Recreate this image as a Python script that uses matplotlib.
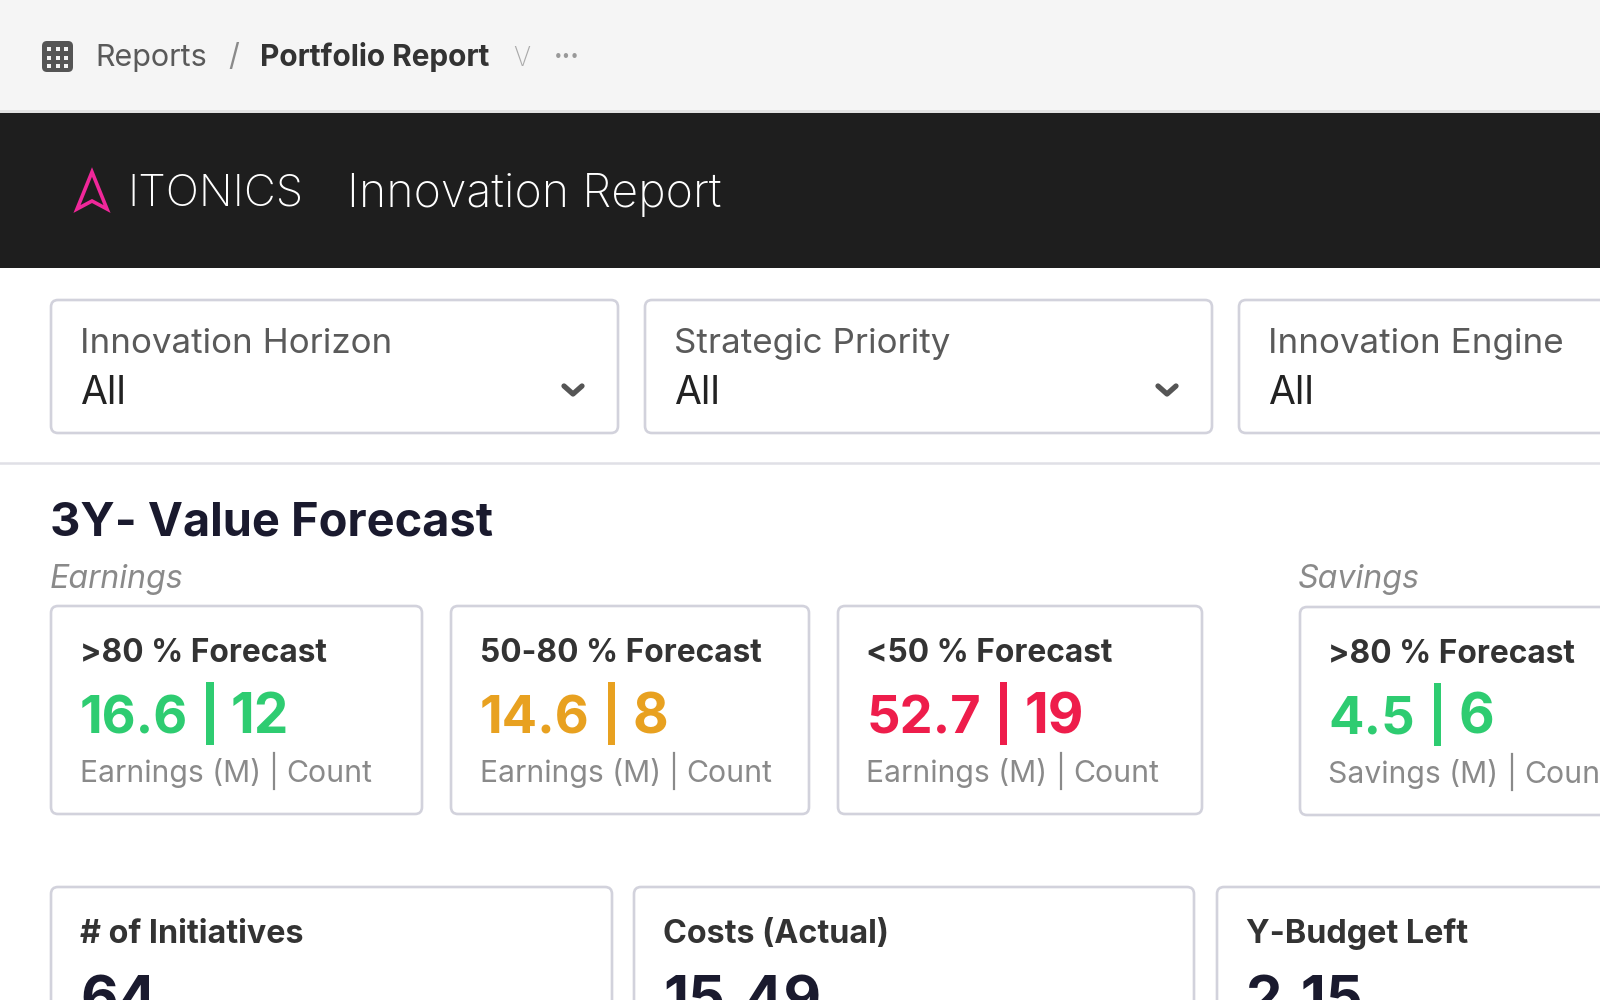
import matplotlib
matplotlib.use('Agg')
import matplotlib.pyplot as plt
from matplotlib.patches import FancyBboxPatch, Rectangle, Polygon

plt.rcParams['font.family'] = ['Inter', 'DejaVu Sans']

BORDER = '#d2d2dc'

filter_names = ['Innovation Horizon', 'Strategic Priority', 'Innovation Engine']
filter_values = ['All', 'All', 'All']
filter_x = [(51, 618), (645, 1212), (1239, 1640)]

forecast_titles = ['>80 % Forecast', '50-80 % Forecast', '<50 % Forecast', '>80 % Forecast']
forecast_values = ['16.6', '14.6', '52.7', '4.5']
forecast_counts = ['12', '8', '19', '6']
forecast_units = ['Earnings (M)', 'Earnings (M)', 'Earnings (M)', 'Savings (M)']
forecast_colors = ['#2ecc71', '#e8a120', '#ee1d4b', '#2ecc71']
forecast_x = [(51, 422), (451, 809), (838, 1202), (1300, 1640)]

summary_titles = ['# of Initiatives', 'Costs (Actual)', 'Y-Budget Left']
summary_values = ['64', '15.49', '2.15']
summary_x = [(51, 612), (634, 1194), (1217, 1640)]

fig = plt.figure(figsize=(16, 10), dpi=100)
ax = fig.add_axes([0, 0, 1, 1])
ax.set_xlim(0, 1600)
ax.set_ylim(1000, 0)
ax.axis('off')


def txt(x, y, s, px, color, weight='normal', **kw):
    return ax.text(x, y, s, fontsize=px * 0.72, color=color, weight=weight, va='baseline', **kw)


def right_edge(t):
    r = t.get_window_extent(fig.canvas.get_renderer())
    return ax.transData.inverted().transform((r.x1, 0))[0]


def box(x0, x1, y0, y1, r=7):
    ax.add_patch(FancyBboxPatch((x0, y0), x1 - x0, y1 - y0, boxstyle='round,pad=0,rounding_size=%d' % r,
                                fc='white', ec=BORDER, lw=1.9))


# top bars
ax.add_patch(Rectangle((0, 0), 1600, 112, fc='#f5f5f5', ec='none'))
ax.add_patch(Rectangle((0, 110), 1600, 4, fc='#e2e2e2', ec='none'))
ax.add_patch(Rectangle((0, 113), 1600, 155, fc='#1e1e1e', ec='none'))

# grid icon
ax.add_patch(FancyBboxPatch((42, 41), 31, 31, boxstyle='round,pad=0,rounding_size=5', fc='#555555', ec='none'))
for i in range(3):
    for j in range(3):
        ax.add_patch(Rectangle((47 + i * 8.5, 47 + j * 8.5), 4, 4, fc='#f5f5f5', ec='none'))

txt(95, 66, 'Reports', 30.5, '#5a5a5a')
txt(228, 66, '/', 30, '#8a8a8a')
txt(260, 66, 'Portfolio Report', 29.8, '#333333', weight='bold')
txt(513, 66, 'V', 26, '#aaaaaa', weight='light')
txt(554, 65, '···', 26, '#999999', weight='bold')

# logo
ax.add_patch(Polygon([(92, 172), (77, 209), (92, 201), (107, 209)], closed=True, fc='none', ec='#f0279a', lw=2.6))
txt(127, 205, 'ITONICS', 44, 'white', weight='light')
txt(347, 207, 'Innovation Report', 46.5, 'white', weight='light')

# filters
for name, value, (x0, x1) in zip(filter_names, filter_values, filter_x):
    box(x0, x1, 300, 433)
    txt(x0 + 29, 353, name, 35, '#5a5a5a')
    txt(x0 + 29, 404, value, 39, '#222222')
    if x1 < 1600:
        ax.plot([x1 - 54, x1 - 45, x1 - 36], [386, 394, 386], color='#555555', lw=3.8,
                solid_capstyle='round', solid_joinstyle='round')
ax.plot([0, 1600], [463, 463], color='#e0e0e6', lw=1.8)

# section head
txt(50, 536, '3Y- Value Forecast', 47, '#1a1a2e', weight='bold')
txt(50, 588, 'Earnings', 32.2, '#8a8a8a', style='italic')
txt(1297, 588, 'Savings', 32.2, '#8a8a8a', style='italic')

# forecast cards
for k in range(4):
    x0, x1 = forecast_x[k]
    dy = 1 if k == 3 else 0
    box(x0, x1, 606 + dy, 814 + dy)
    tx = x0 + 28.5
    col = forecast_colors[k]
    txt(tx, 662 + dy, forecast_titles[k], 31.7, '#333333', weight='bold')
    t = txt(tx, 733 + dy, forecast_values[k], 52.5, col, weight='bold')
    bar_x = right_edge(t) + 22
    ax.add_patch(Rectangle((bar_x - 3.5, 682 + dy), 7.5, 63, fc=col, ec='none'))
    txt(bar_x + 21, 733 + dy, forecast_counts[k], 55, col, weight='bold')
    t = txt(tx, 782 + dy, forecast_units[k], 30, '#8a8a8a')
    sep_x = right_edge(t) + 13
    ax.plot([sep_x, sep_x], [753 + dy, 789 + dy], color='#8a8a8a', lw=1.6)
    txt(sep_x + 13, 782 + dy, 'Count', 30.3, '#8a8a8a', clip_on=True)

# summary cards, run off the bottom of the page
for title, value, (x0, x1) in zip(summary_titles, summary_values, summary_x):
    box(x0, x1, 887, 1040)
    txt(x0 + 29, 943, title, 32.3, '#333333', weight='bold')
    txt(x0 + 29, 1018, value, 58, '#1a1a2e', weight='bold', clip_on=True)

fig.savefig('out.png', dpi=100)
